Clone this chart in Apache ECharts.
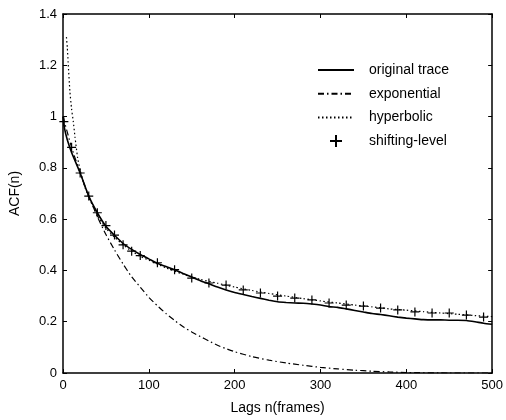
<!DOCTYPE html>
<html>
<head>
<meta charset="utf-8">
<script src="https://cdn.jsdelivr.net/npm/echarts@6/dist/echarts.min.js"></script>
<style>html,body{margin:0;padding:0;background:#fff}#c{width:506px;height:420px}</style>
</head>
<body>
<div id="c"></div>
<script>
// Tick labels
var xTicks = [0, 100, 200, 300, 400, 500];
var yTicks = [0, 0.2, 0.4, 0.6, 0.8, 1, 1.2, 1.4];

// original trace [lag, ACF]
var originalLags = [0,2,5,10,20,30,40,50,60,70,80,90,100,110,120,130,140,150,160,170,180,190,200,210,220,230,240,250,260,270,280,290,300,310,320,330,340,350,360,370,380,390,400,410,420,430,440,450,460,470,480,490,500];
var originalVals = [1.0,0.95,0.91,0.86,0.78,0.69,0.625,0.572,0.537,0.505,0.482,0.462,0.445,0.428,0.415,0.403,0.388,0.374,0.36,0.348,0.335,0.324,0.314,0.306,0.298,0.291,0.284,0.278,0.275,0.273,0.272,0.269,0.265,0.259,0.256,0.25,0.244,0.238,0.232,0.228,0.223,0.218,0.214,0.211,0.208,0.207,0.207,0.206,0.206,0.205,0.2,0.194,0.19];

// exponential fit
var expLags = [0,10,20,30,40,50,60,70,80,90,100,110,120,130,140,150,160,170,180,190,200,220,240,260,280,300,320,340,360,380,400,450,500];
var expVals = [1.0,0.88,0.78,0.69,0.61,0.54,0.48,0.425,0.375,0.335,0.295,0.262,0.232,0.205,0.18,0.16,0.142,0.125,0.108,0.095,0.083,0.064,0.05,0.039,0.03,0.022,0.016,0.011,0.007,0.004,0.002,0.0,0.0];

// hyperbolic fit
var hypLags = [4,5,6,8,10,12,14,17,20,25,30,35,40,50,60,70,80,90,100,120,140,160,180,200,220,240,260,280,300,320,340,360,380,400,420,440,460,480,500];
var hypVals = [1.31,1.27,1.21,1.10,1.03,0.98,0.92,0.84,0.79,0.73,0.685,0.65,0.615,0.565,0.53,0.5,0.475,0.455,0.44,0.41,0.385,0.365,0.35,0.335,0.322,0.31,0.3,0.29,0.281,0.273,0.265,0.258,0.25,0.245,0.239,0.234,0.229,0.224,0.22];

// shifting-level model
var shiftLags = [1,10,20,30,40,50,60,70,80,90,110,130,150,170,190,210,230,250,270,290,310,330,350,370,390,410,430,450,470,490];
var shiftVals = [0.98,0.88,0.78,0.69,0.625,0.575,0.538,0.5,0.475,0.458,0.43,0.403,0.37,0.351,0.343,0.324,0.312,0.30,0.292,0.285,0.273,0.265,0.261,0.253,0.246,0.238,0.234,0.234,0.226,0.218];

function pairs(xs, ys) { return xs.map(function (x, i) { return [x, ys[i]]; }); }

var FONT = 'Liberation Sans, Arial, Helvetica, sans-serif';
function axisCommon() {
  return {
    axisLine: { show: true, onZero: false, lineStyle: { color: '#000', width: 1.5 } },
    axisTick: { show: true, inside: true, length: 4, lineStyle: { color: '#000', width: 1 } },
    splitLine: { show: false }
  };
}

var chart = echarts.init(document.getElementById('c'), null, { renderer: 'canvas' });
chart.setOption({
  backgroundColor: '#fff',
  animation: false,
  textStyle: { fontFamily: FONT, color: '#000' },
  grid: { left: 63, right: 12, top: 14, bottom: 47 },
  legend: {
    orient: 'vertical',
    left: 317,
    top: 63,
    padding: 0,
    itemWidth: 36,
    itemHeight: 12,
    itemGap: 9.7,
    textStyle: { fontFamily: FONT, fontSize: 14, color: '#000', padding: [0, 0, 0, 10] },
    data: [
      { name: 'original trace', itemStyle: { opacity: 0 } },
      { name: 'exponential', itemStyle: { opacity: 0 } },
      { name: 'hyperbolic', itemStyle: { opacity: 0 } },
      { name: 'shifting-level' }
    ]
  },
  xAxis: [
    Object.assign({
      type: 'value', min: xTicks[0], max: xTicks[xTicks.length - 1], interval: 100,
      name: 'Lags n(frames)', nameLocation: 'middle', nameGap: 28,
      nameTextStyle: { fontFamily: FONT, fontSize: 14, color: '#000' },
      axisLabel: { color: '#000', fontSize: 13, fontFamily: FONT, margin: 6 }
    }, axisCommon()),
    Object.assign({
      type: 'value', position: 'top', min: xTicks[0], max: xTicks[xTicks.length - 1], interval: 100,
      axisLabel: { show: false }
    }, axisCommon())
  ],
  yAxis: [
    Object.assign({
      type: 'value', min: yTicks[0], max: yTicks[yTicks.length - 1], interval: 0.2,
      name: 'ACF(n)', nameLocation: 'middle', nameGap: 41,
      nameTextStyle: { fontFamily: FONT, fontSize: 14, color: '#000' },
      axisLabel: { color: '#000', fontSize: 13, fontFamily: FONT, margin: 6,
        formatter: function (v) { return String(Math.round(v * 10) / 10); } }
    }, axisCommon()),
    Object.assign({
      type: 'value', position: 'right', min: yTicks[0], max: yTicks[yTicks.length - 1], interval: 0.2,
      axisLabel: { show: false }
    }, axisCommon())
  ],
  series: [
    {
      name: 'original trace', type: 'line', data: pairs(originalLags, originalVals),
      symbol: 'none', smooth: 0.2,
      lineStyle: { color: '#000', width: 1.6, type: 'solid' },
      itemStyle: { color: '#000' }
    },
    {
      name: 'exponential', type: 'line', data: pairs(expLags, expVals),
      symbol: 'none', smooth: 0.2,
      lineStyle: { color: '#000', width: 1.2, type: [6, 3, 1.5, 3] },
      itemStyle: { color: '#000' }
    },
    {
      name: 'hyperbolic', type: 'line', data: pairs(hypLags, hypVals),
      symbol: 'none', smooth: 0.2,
      lineStyle: { color: '#000', width: 1.2, type: [1.5, 2.5] },
      itemStyle: { color: '#000' }
    },
    {
      name: 'shifting-level', type: 'scatter', data: pairs(shiftLags, shiftVals),
      symbol: 'path://M0,5L10,5M5,0L5,10', symbolSize: 9,
      itemStyle: { color: 'rgba(0,0,0,0)', borderColor: '#000', borderWidth: 1.2, opacity: 1 }
    }
  ]
});
</script>
</body>
</html>
